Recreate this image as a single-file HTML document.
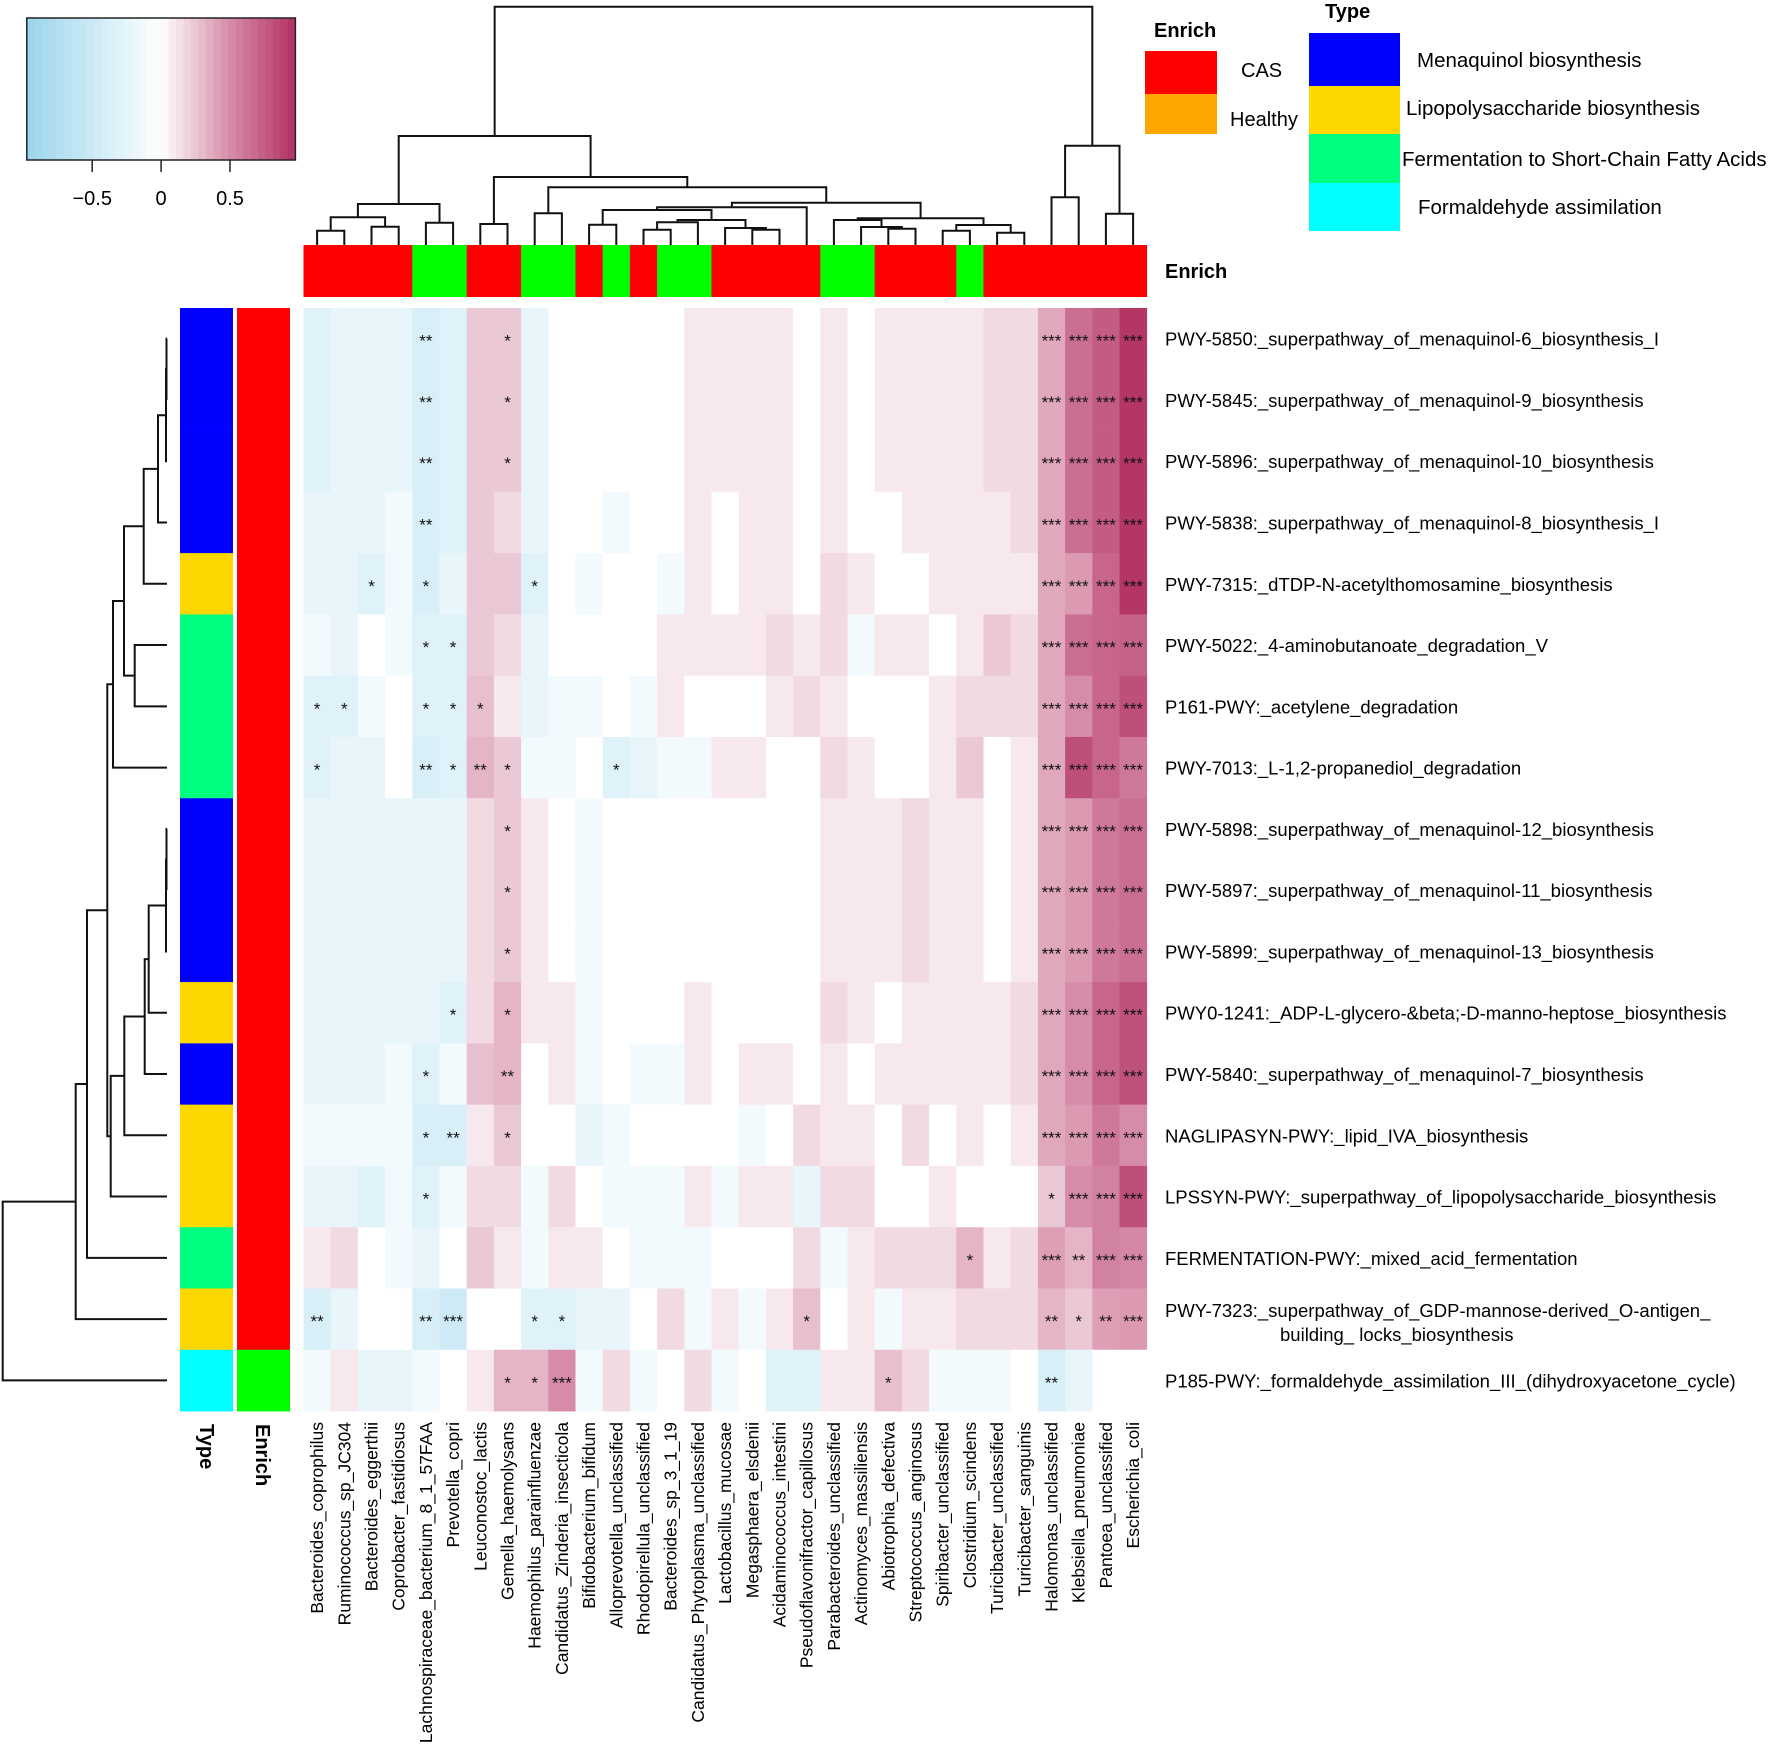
<!DOCTYPE html>
<html><head><meta charset="utf-8"><style>
html,body{margin:0;padding:0;background:#fff;}
svg{display:block;font-family:"Liberation Sans",Arial,sans-serif;}
</style></head><body>
<svg id="chart" width="1772" height="1758" viewBox="0 0 1772 1758">
<g id="legend-scale"></g>
<g id="coltree"></g>
<g id="rowtree"></g>
<g id="colbar"></g>
<g id="rowbars"></g>
<g id="cells"></g>
<g id="stars"></g>
<g id="rowlabels"></g>
<g id="collabels"></g>
<g>
<text x="1154" y="37" font-size="20" font-weight="bold">Enrich</text>
<rect x="1145" y="51" width="72" height="43" fill="#ff0000"/>
<rect x="1145" y="94" width="72" height="40" fill="#ffa500"/>
<text x="1241" y="77" font-size="20">CAS</text>
<text x="1230" y="126" font-size="20">Healthy</text>
</g>
<g>
<text x="1325" y="18" font-size="20" font-weight="bold">Type</text>
<rect x="1309" y="33" width="91" height="53" fill="#0000ff"/>
<rect x="1309" y="86" width="91" height="48" fill="#ffd700"/>
<rect x="1309" y="134" width="91" height="49" fill="#00ff7f"/>
<rect x="1309" y="183" width="91" height="48" fill="#00ffff"/>
<text x="1417" y="67" font-size="20.5">Menaquinol biosynthesis</text>
<text x="1406" y="115" font-size="20.5">Lipopolysaccharide  biosynthesis</text>
<text x="1402" y="166" font-size="20.5">Fermentation to Short-Chain Fatty Acids</text>
<text x="1418" y="214" font-size="20.5">Formaldehyde assimilation</text>
</g>
<text x="1165" y="278" font-size="20" font-weight="bold">Enrich</text>
<text transform="translate(200,1424) rotate(90)" font-size="20" font-weight="bold">Type</text>
<text transform="translate(256,1424) rotate(90)" font-size="20" font-weight="bold">Enrich</text>
</svg>
<script>
var rowNames = ["PWY-5850:_superpathway_of_menaquinol-6_biosynthesis_I","PWY-5845:_superpathway_of_menaquinol-9_biosynthesis","PWY-5896:_superpathway_of_menaquinol-10_biosynthesis","PWY-5838:_superpathway_of_menaquinol-8_biosynthesis_I","PWY-7315:_dTDP-N-acetylthomosamine_biosynthesis","PWY-5022:_4-aminobutanoate_degradation_V","P161-PWY:_acetylene_degradation","PWY-7013:_L-1,2-propanediol_degradation","PWY-5898:_superpathway_of_menaquinol-12_biosynthesis","PWY-5897:_superpathway_of_menaquinol-11_biosynthesis","PWY-5899:_superpathway_of_menaquinol-13_biosynthesis","PWY0-1241:_ADP-L-glycero-\u0026beta;-D-manno-heptose_biosynthesis","PWY-5840:_superpathway_of_menaquinol-7_biosynthesis","NAGLIPASYN-PWY:_lipid_IVA_biosynthesis","LPSSYN-PWY:_superpathway_of_lipopolysaccharide_biosynthesis","FERMENTATION-PWY:_mixed_acid_fermentation","PWY-7323:_superpathway_of_GDP-mannose-derived_O-antigen_","P185-PWY:_formaldehyde_assimilation_III_(dihydroxyacetone_cycle)"];
var colNames = ["Bacteroides_coprophilus","Ruminococcus_sp_JC304","Bacteroides_eggerthii","Coprobacter_fastidiosus","Lachnospiraceae_bacterium_8_1_57FAA","Prevotella_copri","Leuconostoc_lactis","Gemella_haemolysans","Haemophilus_parainfluenzae","Candidatus_Zinderia_insecticola","Bifidobacterium_bifidum","Alloprevotella_unclassified","Rhodopirellula_unclassified","Bacteroides_sp_3_1_19","Candidatus_Phytoplasma_unclassified","Lactobacillus_mucosae","Megasphaera_elsdenii","Acidaminococcus_intestini","Pseudoflavonifractor_capillosus","Parabacteroides_unclassified","Actinomyces_massiliensis","Abiotrophia_defectiva","Streptococcus_anginosus","Spiribacter_unclassified","Clostridium_scindens","Turicibacter_unclassified","Turicibacter_sanguinis","Halomonas_unclassified","Klebsiella_pneumoniae","Pantoea_unclassified","Escherichia_coli"];
var rowType = ["Menaquinol","Menaquinol","Menaquinol","Menaquinol","LPS","Fermentation","Fermentation","Fermentation","Menaquinol","Menaquinol","Menaquinol","LPS","Menaquinol","LPS","LPS","Fermentation","LPS","Formaldehyde"];
var rowEnrich = ["CAS","CAS","CAS","CAS","CAS","CAS","CAS","CAS","CAS","CAS","CAS","CAS","CAS","CAS","CAS","CAS","CAS","Healthy"];
var colEnrich = ["CAS","CAS","CAS","CAS","Healthy","Healthy","CAS","CAS","Healthy","Healthy","CAS","Healthy","CAS","Healthy","Healthy","CAS","CAS","CAS","CAS","Healthy","Healthy","CAS","CAS","CAS","Healthy","CAS","CAS","CAS","CAS","CAS","CAS"];
var scaleTicks = [-0.5, 0, 0.5];
var scaleTickLabels = ["\u22120.5","0","0.5"];
var r0 = [-0.3,-0.22,-0.22,-0.22,-0.38,-0.3,0.24,0.24,-0.22,0,0,0,0,0,0.1,0.1,0.1,0.1,0,0.1,0,0.1,0.1,0.1,0.1,0.16,0.16,0.38,0.65,0.75,0.95];
var r1 = [-0.3,-0.22,-0.22,-0.22,-0.38,-0.3,0.24,0.24,-0.22,0,0,0,0,0,0.1,0.1,0.1,0.1,0,0.1,0,0.1,0.1,0.1,0.1,0.16,0.16,0.38,0.65,0.75,0.95];
var r2 = [-0.3,-0.22,-0.22,-0.22,-0.38,-0.3,0.24,0.24,-0.22,0,0,0,0,0,0.1,0.1,0.1,0.1,0,0.1,0,0.1,0.1,0.1,0.1,0.16,0.16,0.38,0.65,0.75,0.95];
var r3 = [-0.22,-0.22,-0.22,-0.12,-0.38,-0.3,0.24,0.16,-0.22,0,0,-0.12,0,0,0.1,0,0.1,0.1,0,0.1,0,0,0.1,0.1,0.1,0.1,0.16,0.38,0.65,0.75,0.95];
var r4 = [-0.22,-0.22,-0.3,-0.12,-0.38,-0.22,0.24,0.24,-0.3,0,-0.12,0,0,-0.12,0.1,0,0.1,0.1,0,0.16,0.1,0,0,0.1,0.1,0.1,0.1,0.38,0.44,0.7,0.95];
var r5 = [-0.12,-0.22,0,-0.12,-0.3,-0.3,0.24,0.16,-0.22,0,0,0,0,0.1,0.1,0.1,0.1,0.16,0.1,0.16,-0.12,0.1,0.1,0,0.1,0.24,0.16,0.38,0.65,0.7,0.72];
var r6 = [-0.3,-0.3,-0.12,0,-0.3,-0.3,0.28,0.1,-0.22,-0.12,-0.12,0,-0.12,0.1,0,0,0,0.1,0.16,0.1,0,0,0,0.1,0.16,0.16,0.16,0.38,0.5,0.7,0.82];
var r7 = [-0.3,-0.22,-0.22,0,-0.38,-0.3,0.32,0.24,-0.12,-0.12,0,-0.3,-0.22,-0.12,-0.12,0.1,0.1,0,0,0.16,0.1,0,0,0.1,0.24,0,0.1,0.38,0.82,0.7,0.6];
var r8 = [-0.22,-0.22,-0.22,-0.22,-0.22,-0.22,0.16,0.24,0.1,0,-0.12,0,0,0,0,0,0,0,0,0.1,0.1,0.1,0.16,0.1,0.1,0,0.1,0.38,0.44,0.6,0.65];
var r9 = [-0.22,-0.22,-0.22,-0.22,-0.22,-0.22,0.16,0.24,0.1,0,-0.12,0,0,0,0,0,0,0,0,0.1,0.1,0.1,0.16,0.1,0.1,0,0.1,0.38,0.44,0.6,0.65];
var r10 = [-0.22,-0.22,-0.22,-0.22,-0.22,-0.22,0.16,0.24,0.1,0,-0.12,0,0,0,0,0,0,0,0,0.1,0.1,0.1,0.16,0.1,0.1,0,0.1,0.38,0.44,0.6,0.65];
var r11 = [-0.22,-0.22,-0.22,-0.22,-0.22,-0.3,0.16,0.32,0.1,0.1,-0.12,0,0,0,0.1,0,0,0,0,0.16,0.1,0,0.1,0.1,0.1,0.1,0.16,0.38,0.5,0.7,0.8];
var r12 = [-0.22,-0.22,-0.22,-0.12,-0.3,-0.12,0.28,0.32,0,0.1,-0.12,0,-0.12,-0.12,0.1,0,0.1,0.1,0,0.1,0,0.1,0.1,0.1,0.1,0.1,0.16,0.38,0.5,0.7,0.8];
var r13 = [-0.12,-0.12,-0.12,-0.12,-0.38,-0.38,0.1,0.24,0,0,-0.22,-0.12,0,0,0,0,-0.12,0,0.16,0.1,0.1,0,0.16,0,0.1,0,0.1,0.38,0.44,0.6,0.5];
var r14 = [-0.22,-0.22,-0.3,-0.12,-0.3,-0.12,0.16,0.16,-0.12,0.16,0,-0.12,-0.12,-0.12,0.1,-0.12,0.1,0.1,-0.22,0.16,0.16,0,0,0.1,0,0,0,0.24,0.5,0.55,0.82];
var r15 = [0.1,0.16,0,-0.12,-0.22,0,0.24,0.1,-0.12,0.1,0.1,0,-0.15,-0.15,-0.15,0,0,0,0.16,-0.12,0.1,0.16,0.16,0.16,0.32,0.1,0.16,0.42,0.32,0.55,0.52];
var r16 = [-0.38,-0.22,0,0,-0.38,-0.48,0,0,-0.3,-0.3,-0.22,-0.22,0,0.16,-0.12,0.1,-0.12,0.1,0.28,0,0.1,-0.12,0.1,0.1,0.16,0.16,0.16,0.32,0.24,0.42,0.44];
var r17 = [-0.12,0.1,-0.22,-0.22,-0.12,0,0.1,0.32,0.32,0.5,-0.12,0.16,-0.12,0,0.16,-0.12,0,-0.3,-0.3,0.1,0.1,0.28,0.16,-0.12,-0.12,-0.12,0,-0.38,-0.22,0,0];
var heatValues = [r0,r1,r2,r3,r4,r5,r6,r7,r8,r9,r10,r11,r12,r13,r14,r15,r16,r17];
var starRows = [0,0,0,0,0,0,1,1,1,1,1,1,2,2,2,2,2,2,3,3,3,3,3,4,4,4,4,4,4,4,5,5,5,5,5,5,6,6,6,6,6,6,6,6,6,7,7,7,7,7,7,7,7,7,7,8,8,8,8,8,9,9,9,9,9,10,10,10,10,10,11,11,11,11,11,11,12,12,12,12,12,12,13,13,13,13,13,13,13,14,14,14,14,14,15,15,15,15,15,16,16,16,16,16,16,16,16,16,16,17,17,17,17,17];
var starCols = [4,7,27,28,29,30,4,7,27,28,29,30,4,7,27,28,29,30,4,27,28,29,30,2,4,8,27,28,29,30,4,5,27,28,29,30,0,1,4,5,6,27,28,29,30,0,4,5,6,7,11,27,28,29,30,7,27,28,29,30,7,27,28,29,30,7,27,28,29,30,5,7,27,28,29,30,4,7,27,28,29,30,4,5,7,27,28,29,30,4,27,28,29,30,24,27,28,29,30,0,4,5,8,9,18,27,28,29,30,7,8,9,21,27];
var starText = ["**","*","***","***","***","***","**","*","***","***","***","***","**","*","***","***","***","***","**","***","***","***","***","*","*","*","***","***","***","***","*","*","***","***","***","***","*","*","*","*","*","***","***","***","***","*","**","*","**","*","*","***","***","***","***","*","***","***","***","***","*","***","***","***","***","*","***","***","***","***","*","*","***","***","***","***","*","**","***","***","***","***","*","**","*","***","***","***","***","*","*","***","***","***","*","***","**","***","***","**","**","***","*","*","*","**","*","**","***","*","*","***","*","**"];
var colTree=[[[[[0,1,230.7],[2,3,226.7],217.3],[4,5,222.7],204],[[6,7,224],[[8,9,213.3],[[[[10,11,224.7],[[[12,13,229.7],14,222.3],[15,[16,17,229.7],228],220],210],18,207.3],[[19,[20,[21,22,228.7],227],220],[[23,24,230.7],[25,26,232.7],225],218.3],202.7],187.3],177],136],[[27,28,197.3],[29,30,213.7],145.7],6.7];
var rowTree=[[[[[[[[[[0,1,166.5],2,166],3,158],4,143.7],[5,6,134.7],124],7,113],[[[[[[8,9,166.5],10,166],11,148.7],12,144.7],13,124.3],14,110.7],107.3],15,87],16,75.7],17,2.7];

(function(){
var SVGNS=document.getElementById("chart").namespaceURI;
var X0=303.5, CW=27.2, Y0=308, RH=61.28;
function colX(i){return X0 + CW*i;}
function rowY(i){return Y0 + RH*i;}
var stops=[[-1,[152,212,236]],[0,[255,255,255]],[0.5,[214,140,168]],[1,[176,44,94]]];
function cmap(v){
  v=Math.max(-1,Math.min(1,v));
  for(var k=0;stops.length-1>k;k++){
    var a=stops[k][0],ca=stops[k][1],b=stops[k+1][0],cb2=stops[k+1][1];
    if(b>=v){var t=(v-a)/(b-a);var out=[];for(var j=0;3>j;j++)out.push(Math.round(ca[j]+(cb2[j]-ca[j])*t));return "rgb("+out.join(",")+")";}
  }
  return "rgb(176,44,94)";
}
function mk(tag,attrs,parent){var e=document.createElementNS(SVGNS,tag);for(var k in attrs)e.setAttribute(k,attrs[k]);parent.appendChild(e);return e;}
var typeColors={Menaquinol:"#0000ff",LPS:"#ffd700",Fermentation:"#00ff7f",Formaldehyde:"#00ffff"};
var enrichColors={CAS:"#ff0000",Healthy:"#00ff00"};

try{
var lg=document.getElementById("legend-scale");
var LX0=26.8, LX1=295.4, LY0=18, LY1=160, Lmid=161.1, Lunit=137.8, nb=36;
for(var k=0;nb>k;k++){
  var x=LX0+(LX1-LX0)*k/nb, v=(x+(LX1-LX0)/nb/2-Lmid)/Lunit;
  var rr=mk("rect",{x:x,y:LY0,width:(LX1-LX0)/nb+0.6,height:LY1-LY0,fill:cmap(v)},lg);
  
  
}
var lb=mk("rect",{x:LX0,y:LY0,width:LX1-LX0,height:LY1-LY0,fill:"none",stroke:"#222","stroke-width":1.5},lg);


scaleTicks.forEach(function(t,k){
  var x=Lmid+t*Lunit;
  var l=mk("line",{x1:x,x2:x,y1:LY1,y2:172,stroke:"#222","stroke-width":1.5},lg);
  
  
  var tx=mk("text",{x:x,y:205,"font-size":20,"text-anchor":"middle"},lg);
  tx.textContent=scaleTickLabels[k];
  
  
});
}catch(e){}

try{
var cg=document.getElementById("cells");
heatValues.forEach(function(row,i){row.forEach(function(v,j){
  var r=mk("rect",{x:colX(j),y:rowY(i),width:CW+0.4,height:RH+0.4,fill:cmap(v)},cg);
  
  
});});
var sg=document.getElementById("stars");
starRows.forEach(function(ri,k){
  var t=mk("text",{x:colX(starCols[k])+CW/2,y:rowY(ri)+RH/2+8,"font-size":17,"text-anchor":"middle",fill:"#111"},sg);
  t.textContent=starText[k];
  
  
});
}catch(e){}

try{
var cbg=document.getElementById("colbar");
colEnrich.forEach(function(en,j){
  var r=mk("rect",{x:colX(j),y:245,width:CW+0.4,height:52,fill:enrichColors[en]},cbg);
  
  
});
var rbg=document.getElementById("rowbars");
rowType.forEach(function(t,i){
  var r=mk("rect",{x:180,y:rowY(i),width:53,height:RH+0.4,fill:typeColors[t]},rbg);
  
  
});
rowEnrich.forEach(function(en,i){
  var r=mk("rect",{x:237,y:rowY(i),width:53,height:RH+0.4,fill:enrichColors[en]},rbg);
  
  
});
}catch(e){}

try{
var rlg=document.getElementById("rowlabels");
rowNames.forEach(function(n,i){
  var t=mk("text",{x:1165,y:(i===16? rowY(i)+RH/2-2 : rowY(i)+RH/2+7),"font-size":18.5},rlg);
  t.textContent=n;
  
  
});
var t2=mk("text",{x:1280,y:rowY(16)+RH/2+22,"font-size":18.5},rlg);
t2.textContent="building_ locks_biosynthesis";


var clg=document.getElementById("collabels");
colNames.forEach(function(n,j){
  var x=colX(j)+CW/2+6;
  var t=mk("text",{transform:"translate("+x+",1422) rotate(-90)","font-size":17.5,"text-anchor":"end"},clg);
  t.textContent=n;
  
  
});
}catch(e){}

function drawTree(node,g,pos,leafH,orient){
  if(typeof node==="number") return [pos(node),leafH];
  var a=drawTree(node[0],g,pos,leafH,orient), b=drawTree(node[1],g,pos,leafH,orient), h=node[2];
  var d;
  if(orient==="top") d="M"+a[0]+","+a[1]+"V"+h+"H"+b[0]+"V"+b[1];
  else d="M"+a[1]+","+a[0]+"H"+h+"V"+b[0]+"H"+b[1];
  var p=mk("path",{d:d,fill:"none",stroke:"#111","stroke-width":2},g);
  
  
  return [(a[0]+b[0])/2,h];
}
try{
drawTree(colTree,document.getElementById("coltree"),function(j){return colX(j)+CW/2;},245,"top");
drawTree(rowTree,document.getElementById("rowtree"),function(i){return rowY(i)+RH/2;},167,"left");
}catch(e){}
})();
</script>
</body></html>
